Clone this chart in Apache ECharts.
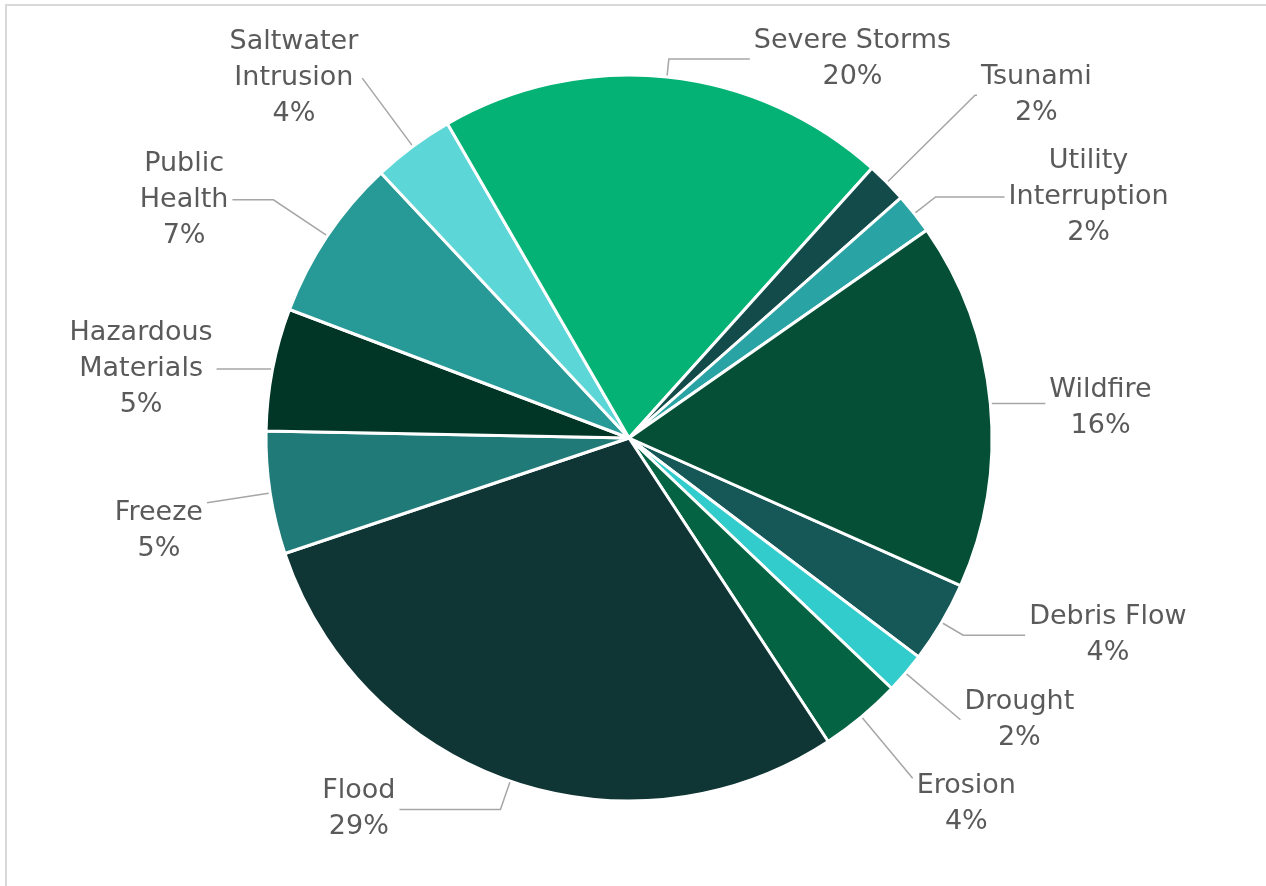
<!DOCTYPE html>
<html>
<head>
<meta charset="utf-8">
<script src="https://cdn.jsdelivr.net/npm/echarts@6/dist/echarts.min.js"></script>
<style>
  html, body { margin: 0; padding: 0; background: #ffffff; }
  #chart { width: 1266px; height: 886px; }
</style>
</head>
<body>
<div id="chart"></div>
<script>
// Hazard categories and the number of entries in each
const categories = ['Debris Flow', 'Drought', 'Erosion', 'Flood', 'Freeze', 'Hazardous Materials',
  'Public Health', 'Saltwater Intrusion', 'Severe Storms', 'Tsunami', 'Utility Interruption', 'Wildfire'];
const counts = [2, 1, 2, 16, 3, 3, 4, 2, 11, 1, 1, 9];

// How each category name is broken over lines in its label
const labelText = ['Debris Flow', 'Drought', 'Erosion', 'Flood', 'Freeze', 'Hazardous\nMaterials',
  'Public\nHealth', 'Saltwater\nIntrusion', 'Severe Storms', 'Tsunami', 'Utility\nInterruption', 'Wildfire'];

// Slice fills
const sliceColors = ['#165857', '#33CCCC', '#046342', '#0F3535', '#1F7A78', '#013525',
  '#279996', '#5CD6D6', '#05B276', '#134A4A', '#2AA3A4', '#054F36'];

// Leader line lengths: radial part, then horizontal part
const leaderOut = [25, 72, 80, 30, 64, 2, 65, 85, 18, 124, 27, 0];
const leaderSide = [62, 0, 0, 101, 0, 54, 41, 0, 81, 2, 69, 55];
// Extra space above some labels so their text sits lower than the leader end
const labelPadTop = [0, 0, 52, 0, 56, 0, 0, 0, 0, 0, 0, 8];

const FONT = "'Century Gothic', 'DejaVu Sans', sans-serif";

const seriesData = categories.map((name, i) => ({
  name: name,
  value: counts[i],
  itemStyle: { color: sliceColors[i] },
  label: { padding: [labelPadTop[i], 0, 0, 0] },
  labelLine: { length: leaderOut[i], length2: leaderSide[i] }
}));

const chart = echarts.init(document.getElementById('chart'), null, { renderer: 'canvas' });

chart.setOption({
  backgroundColor: '#ffffff',
  animation: false,
  graphic: [{
    type: 'rect',
    silent: true,
    shape: { x: 6, y: 5, width: 2000, height: 2000 },
    style: { fill: 'none', stroke: '#D9D9D9', lineWidth: 2 }
  }],
  series: [{
    type: 'pie',
    center: [629, 438],
    radius: 363,
    startAngle: -24,
    clockwise: true,
    percentPrecision: 0,
    avoidLabelOverlap: false,
    data: seriesData,
    itemStyle: { borderColor: '#ffffff', borderWidth: 3 },
    label: {
      show: true,
      position: 'outside',
      distanceToLabelLine: 4,
      formatter: (p) => {
        const lines = labelText[p.dataIndex].split('\n');
        lines.push(p.percent + '%');
        return lines.map(s => '{t|' + s + '}').join('\n');
      },
      rich: {
        t: {
          align: 'center',
          fontFamily: FONT,
          fontSize: 27,
          lineHeight: 36,
          color: '#5a5a5a'
        }
      }
    },
    labelLine: {
      show: true,
      smooth: false,
      lineStyle: { color: '#A6A6A6', width: 1.5 }
    },
    emphasis: { disabled: true }
  }]
});
</script>
</body>
</html>
